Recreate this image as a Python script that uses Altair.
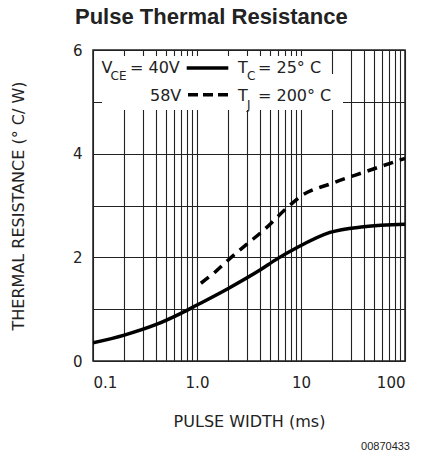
import altair as alt
import pandas as pd

# ---- data ----
x_solid = [0.1, 0.2, 0.4, 0.7, 1.0, 2.0, 4.0, 6.0, 9.0, 19.0, 40.0, 100.0]
y_solid = [0.35, 0.50, 0.70, 0.92, 1.08, 1.40, 1.75, 1.98, 2.18, 2.48, 2.59, 2.64]
x_dash = [1.09, 1.5, 2.0, 3.0, 4.3, 7.2, 10.0, 20.0, 40.0, 100.0]
y_dash = [1.50, 1.72, 1.95, 2.25, 2.51, 2.94, 3.18, 3.43, 3.64, 3.91]

x_label_values = [0.1, 1, 10, 100]
x_label_text = ["0.1", "1.0", "10", "100"]
x_grid = [m * d for d in (0.1, 1, 10) for m in range(1, 10)] + [100]
y_grid = [0, 1, 2, 3, 4, 5, 6]
y_label_values = [0, 2, 4, 6]

title_text = "Pulse Thermal Resistance"
x_title = "PULSE WIDTH (ms)"
y_title = "THERMAL RESISTANCE (° C/ W)"
code_text = "00870433"

W, H = 312, 311
INK = "#222222"
FONT = "DejaVu Sans"

solid_df = pd.DataFrame({"x": x_solid, "y": y_solid})
dash_df = pd.DataFrame({"x": x_dash, "y": y_dash})
dummy = pd.DataFrame({"a": [0]})

xexpr = " : ".join(
    f"datum.value == {v} ? '{t}'" for v, t in zip(x_label_values, x_label_text)
) + " : ''"
yexpr = " || ".join(f"datum.value == {v}" for v in y_label_values)
yexpr = f"({yexpr}) ? datum.label : ''"

xscale = alt.Scale(type="log", domain=[0.1, 100], nice=False)
yscale = alt.Scale(domain=[0, 6], nice=False, zero=False)

xaxis = alt.Axis(
    values=x_grid, labelExpr=xexpr, grid=True, domain=False, ticks=False,
    labelPadding=14, labelFlush=True, title=x_title,
    titleX=W / 2, titleY=60, titleAlign="center", titleBaseline="middle",
    titleFont=FONT, titleFontSize=16, titleFontWeight="normal", titleColor=INK,
)
yaxis = alt.Axis(
    values=y_grid, labelExpr=yexpr, grid=True, domain=False, ticks=False,
    labelPadding=11, title=y_title,
    titleX=-75, titleY=H / 2, titleAngle=270, titleAlign="center",
    titleBaseline="middle",
    titleFont=FONT, titleFontSize=16, titleFontWeight="normal", titleColor=INK,
)

solid = alt.Chart(solid_df).mark_line(
    color="black", strokeWidth=3.5, interpolate="monotone", clip=True
).encode(
    x=alt.X("x:Q", scale=xscale, axis=xaxis),
    y=alt.Y("y:Q", scale=yscale, axis=yaxis),
)
dashed = alt.Chart(dash_df).mark_line(
    color="black", strokeWidth=3.5, interpolate="monotone", clip=True,
    strokeDash=[10, 7], strokeCap="butt"
).encode(x=alt.X("x:Q", scale=xscale), y=alt.Y("y:Q", scale=yscale))


def box(x1, x2, y1, y2):
    return alt.Chart(dummy).mark_rect(color="white").encode(
        x=alt.value(x1), x2=alt.value(x2), y=alt.value(y1), y2=alt.value(y2)
    )


def txt(s, x, y, size=16, align="left", font=FONT, color=INK, weight="normal"):
    return alt.Chart(dummy).mark_text(
        text=s, align=align, baseline="alphabetic", font=font,
        fontSize=size, color=color, fontWeight=weight
    ).encode(x=alt.value(x), y=alt.value(y))


def sample(x1, x2, y, dash=None):
    kw = dict(color="black", strokeWidth=3.5, strokeCap="butt")
    if dash:
        kw["strokeDash"] = dash
    return alt.Chart(dummy).mark_rule(**kw).encode(
        x=alt.value(x1), x2=alt.value(x2), y=alt.value(y)
    )


legend_layers = [
    box(9, 235, 6, 24),
    box(9, 250, 24, 60),
    txt("V", 8.5, 23),
    txt("CE", 17.5, 30, size=12),
    txt("= 40V", 37, 23),
    sample(93.7, 135.3, 18),
    txt("T", 145, 23),
    txt("C", 154, 30, size=12),
    txt("= 25° C", 165, 23),
    txt("58V", 57, 51.3),
    sample(95, 135, 44.7, dash=[10, 5]),
    txt("T", 145, 51.3),
    txt("J", 154, 58.5, size=12),
    txt("= 200° C", 165, 51.3),
    txt(code_text, 317, 400, size=11, align="right", font="Liberation Sans"),
    txt(title_text, -18, -26, size=22, font="Liberation Sans", weight="bold"),
]

chart = alt.layer(solid, dashed, *legend_layers).properties(
    width=W, height=H,
    autosize=alt.AutoSizeParams(type="none"),
    padding={"left": 85, "top": 42, "right": 8, "bottom": 91},
).configure_view(
    stroke=INK, strokeWidth=1.5
).configure_axis(
    gridColor=INK, gridWidth=1.1, gridOpacity=1,
    labelFont=FONT, labelFontSize=15, labelColor=INK,
)

chart.save("out.html", embed_options={"renderer": "svg", "actions": False})
